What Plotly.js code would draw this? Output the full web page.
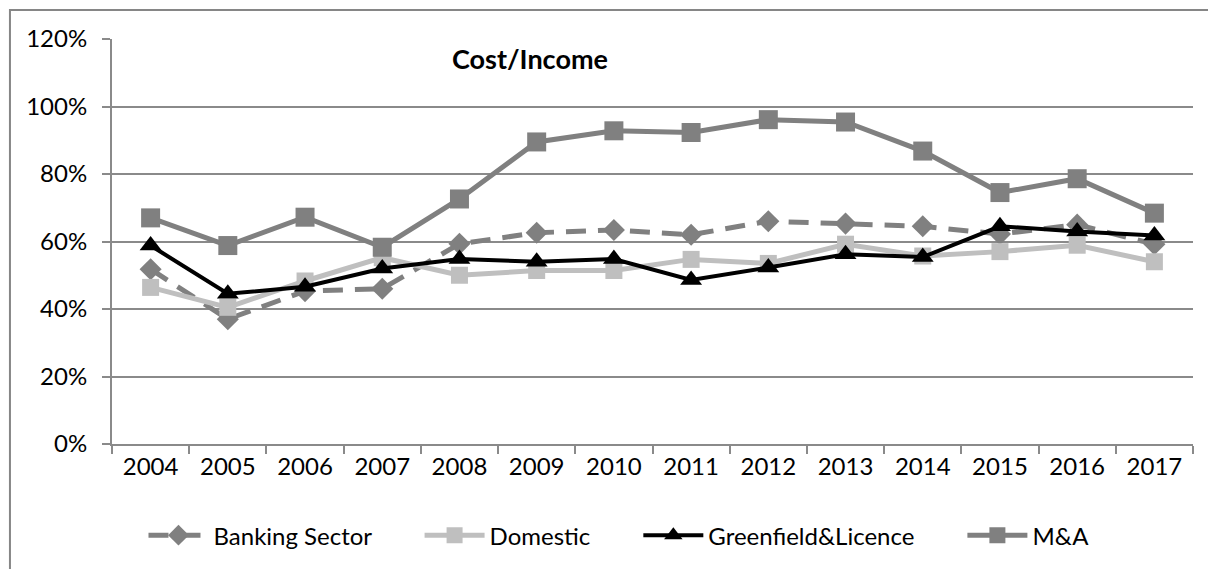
<!DOCTYPE html>
<html>
<head>
<meta charset="utf-8">
<script src="https://cdn.plot.ly/plotly-3.0.1.min.js"></script>
<style>
  html, body { margin: 0; padding: 0; background: #fff; }
  #chart { width: 1208px; height: 569px; }
</style>
</head>
<body>
<div id="chart"></div>
<script>
// Cost/Income ratio by entry mode, 2004–2017
const years = ['2004','2005','2006','2007','2008','2009','2010','2011','2012','2013','2014','2015','2016','2017'];

const bankingSector = [0.518, 0.370, 0.453, 0.460, 0.593, 0.626, 0.634, 0.620, 0.660, 0.653, 0.645, 0.622, 0.650, 0.592];
const domestic      = [0.464, 0.405, 0.483, 0.552, 0.500, 0.514, 0.514, 0.547, 0.535, 0.592, 0.557, 0.570, 0.589, 0.540];
const greenfield    = [0.588, 0.445, 0.466, 0.520, 0.548, 0.540, 0.548, 0.486, 0.523, 0.562, 0.554, 0.645, 0.630, 0.618];
const mAndA         = [0.670, 0.588, 0.672, 0.583, 0.726, 0.895, 0.928, 0.923, 0.961, 0.954, 0.868, 0.745, 0.786, 0.684];

const seriesNames = ['Banking Sector', 'Domestic', 'Greenfield&Licence', 'M&A'];

const FONT = 'Lato, "Liberation Sans", sans-serif';
const GRID = '#8a8a8a';
// trailing non-breaking spaces widen the gap between legend entries
const PAD = '\u00a0'.repeat(7);

const traces = [
  {
    x: years, y: bankingSector, name: seriesNames[0] + PAD, type: 'scatter', mode: 'lines+markers',
    line: { color: '#808080', width: 5, dash: '20px,12px' },
    marker: { symbol: 'diamond', size: 17, color: '#808080' }
  },
  {
    x: years, y: domestic, name: seriesNames[1] + PAD, type: 'scatter', mode: 'lines+markers',
    line: { color: '#bfbfbf', width: 5 },
    marker: { symbol: 'square', size: 17, color: '#bfbfbf' }
  },
  {
    x: years, y: greenfield, name: seriesNames[2] + PAD, type: 'scatter', mode: 'lines+markers',
    line: { color: '#000000', width: 4 },
    marker: { symbol: 'triangle-up', size: 19, color: '#000000' }
  },
  {
    x: years, y: mAndA, name: seriesNames[3], type: 'scatter', mode: 'lines+markers',
    line: { color: '#808080', width: 5 },
    marker: { symbol: 'square', size: 19, color: '#808080' }
  }
];

const layout = {
  width: 1208, height: 569,
  margin: { l: 112, r: 15, t: 39, b: 123.5 },
  paper_bgcolor: '#ffffff', plot_bgcolor: '#ffffff',
  font: { family: FONT, size: 24, color: '#000000' },
  showlegend: true,
  legend: {
    orientation: 'h', x: 0.469, y: -0.223, xanchor: 'center', yanchor: 'middle',
    font: { family: FONT, size: 24, color: '#000000' },
    itemwidth: 60, tracegroupgap: 0
  },
  xaxis: {
    type: 'category', range: [-0.5, 13.5],
    showgrid: false, showline: true, linecolor: GRID, linewidth: 2,
    ticks: 'outside', tickson: 'boundaries', ticklen: 8, tickcolor: GRID, tickwidth: 2,
    tickfont: { family: FONT, size: 24 }, fixedrange: true
  },
  yaxis: {
    range: [0, 1.2], dtick: 0.2, tick0: 0, tickformat: '.0%',
    showgrid: true, gridcolor: GRID, gridwidth: 2,
    showline: true, linecolor: GRID, linewidth: 2,
    ticks: 'outside', ticklen: 8, tickcolor: GRID, tickwidth: 2,
    ticklabelstandoff: 10,
    tickfont: { family: FONT, size: 24 }, zeroline: false, fixedrange: true
  },
  annotations: [
    {
      text: '<b>Cost/Income</b>', xref: 'paper', yref: 'paper',
      x: 0.387, y: 0.953, xanchor: 'center', yanchor: 'middle', showarrow: false,
      font: { family: FONT, size: 27, color: '#000000' }
    }
  ],
  shapes: [
    {
      type: 'rect', xref: 'paper', yref: 'paper',
      x0: -0.0944, x1: 1.2, y0: -0.5, y1: 1.0713,
      line: { color: '#868686', width: 2 }, fillcolor: 'rgba(0,0,0,0)', layer: 'below'
    }
  ]
};

Plotly.newPlot('chart', traces, layout, { displayModeBar: false, staticPlot: true });
</script>
</body>
</html>
